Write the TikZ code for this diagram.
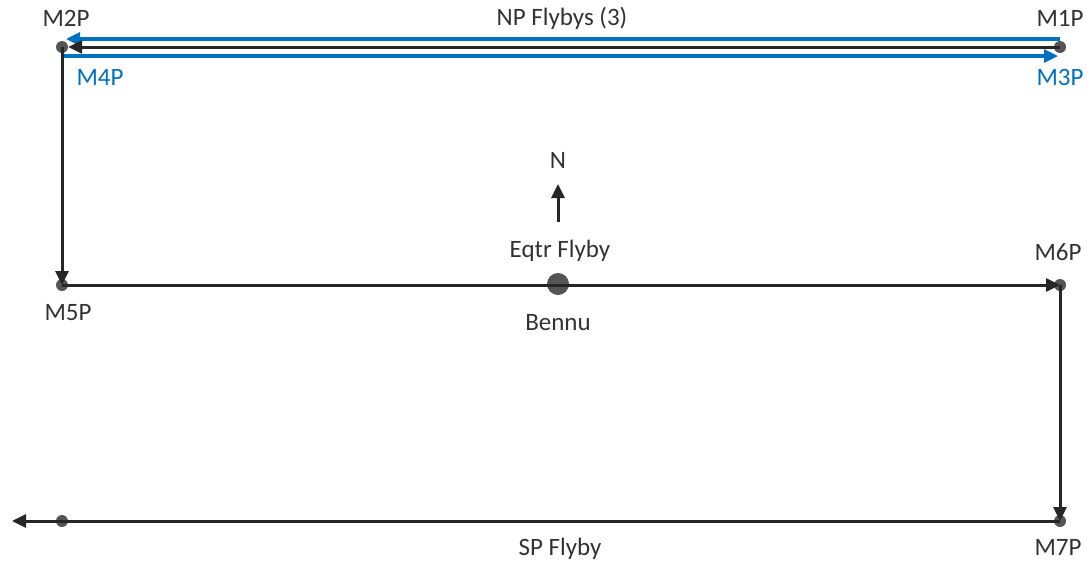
\documentclass[tikz,border=0pt]{standalone}
\usepackage{fontspec}
\setmainfont{Carlito}
\usetikzlibrary{arrows.meta}
\definecolor{obl}{RGB}{0,112,192}
\definecolor{dotc}{RGB}{85,85,85}
\definecolor{txt}{RGB}{50,50,50}
\begin{document}
\begin{tikzpicture}[x=1pt,y=-1pt,
  dot/.style={circle,fill=dotc,inner sep=0pt,minimum size=12pt},
  bigdot/.style={circle,fill=dotc,inner sep=0pt,minimum size=22pt},
  lbl/.style={text=txt,font=\fontsize{25}{28}\selectfont,inner sep=0pt},
  blbl/.style={text=obl,font=\fontsize{25}{28}\selectfont,inner sep=0pt},
  blk/.style={draw=black!85,line width=3pt,-{Triangle[length=14pt,width=13pt]}},
  blu/.style={draw=obl,line width=3.2pt,-{Triangle[length=14pt,width=13pt]}}]
\useasboundingbox (0,0) rectangle (1087,563);
% points
\node[dot] (m2) at (62,47) {};
\node[dot] (m1) at (1060,47) {};
\node[dot] (m5) at (62,285) {};
\node[bigdot] (bennu) at (558,284) {};
\node[dot] (m6) at (1060,285) {};
\node[dot] (m7) at (1060,521) {};
\node[dot] (sp) at (62,521) {};
\coordinate (spend) at (12,521);
% offset coordinates for top lines
\coordinate (b1s) at (1060,39);
\coordinate (b1e) at (66,39);
\coordinate (b2s) at (62,56);
\coordinate (b2e) at (1058,56);
\coordinate (n1) at (558,222);
\coordinate (n2) at (558,184);
% connectors
\draw[blu] (b1s) -- (b1e);
\draw[blu] (b2s) -- (b2e);
\draw[blk] (m1.center) -- (m2.east);
\draw[blk] (m2.center) -- (m5.center);
\draw[blk] (m5.center) -- (m6.center);
\draw[blk] (m6.center) -- (m7.center);
\draw[blk] (m7.center) -- (spend);
\draw[blk] (n1) -- (n2);
% labels
\node[lbl] (lm2) at (66,18) {M2P};
\node[lbl] (lm1) at (1060,18) {M1P};
\node[blbl] (lm4) at (100,77) {M4P};
\node[blbl] (lm3) at (1060,77) {M3P};
\node[lbl] (lnp) at (562,18) {NP Flybys (3)};
\node[lbl] (ln) at (558,160) {N};
\node[lbl] (leq) at (560,251) {Eqtr Flyby};
\node[lbl] (lbe) at (558,323) {Bennu};
\node[lbl] (lm5) at (68,313) {M5P};
\node[lbl] (lm6) at (1058,252) {M6P};
\node[lbl] (lsp) at (560,549) {SP Flyby};
\node[lbl] (lm7) at (1058,547) {M7P};
\end{tikzpicture}
\end{document}
